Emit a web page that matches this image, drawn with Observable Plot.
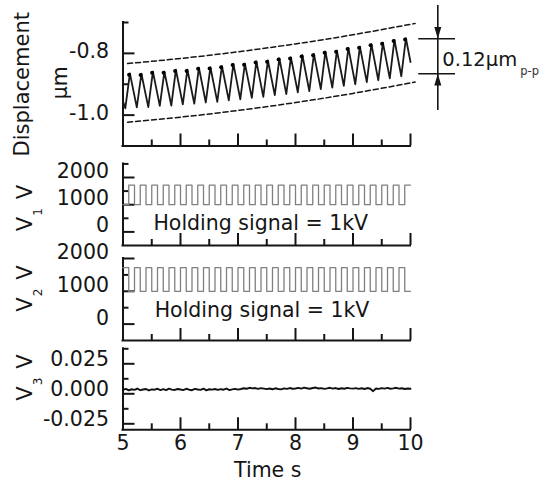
<!DOCTYPE html>
<html><head><meta charset="utf-8">
<script src="https://cdn.jsdelivr.net/npm/d3@7"></script>
<script src="https://cdn.jsdelivr.net/npm/@observablehq/plot@0.6"></script>
<style>
html,body{margin:0;padding:0;background:#fff;}
#chart{position:relative;width:541px;height:482px;overflow:hidden;background:#fff;}
</style></head>
<body><div id="chart"></div>
<script>
// ---------- data ----------
const xTickLabels = [5, 6, 7, 8, 9, 10];
const xMajorTicks = [6, 7, 8, 9, 10];
const xMinorTicks = [5.5, 6.5, 7.5, 8.5, 9.5];

// Displacement (um)
const dispLabels = [-1.0, -0.8];
const dispMajor = [-1.0, -0.8];
const dispMinor = [-0.9, -0.7];
const troughT = [5.04,5.24,5.44,5.64,5.84,6.04,6.24,6.44,6.64,6.84,7.04,7.24,7.44,7.64,7.84,8.04,8.24,8.44,8.64,8.84,9.04,9.24,9.44,9.64,9.84];
const troughV = [-0.978,-0.975,-0.974,-0.970,-0.969,-0.965,-0.963,-0.959,-0.957,-0.952,-0.949,-0.944,-0.941,-0.935,-0.932,-0.926,-0.922,-0.916,-0.911,-0.905,-0.900,-0.893,-0.887,-0.881,-0.874];
const peakT = [5.12,5.32,5.52,5.72,5.92,6.12,6.32,6.52,6.72,6.92,7.12,7.32,7.52,7.72,7.92,8.12,8.32,8.52,8.72,8.92,9.12,9.32,9.52,9.72,9.92];
const peakV = [-0.865,-0.866,-0.859,-0.859,-0.853,-0.853,-0.846,-0.845,-0.841,-0.834,-0.833,-0.826,-0.823,-0.816,-0.813,-0.806,-0.802,-0.794,-0.791,-0.782,-0.778,-0.770,-0.765,-0.756,-0.751];
const traceStart = {t: 5.0, v: -0.955};
const traceEnd = {t: 10.0, v: -0.828};
const envT = [5.08, 6, 7, 8, 9, 10.08];
const envUpper = [-0.833, -0.8166, -0.7949, -0.7693, -0.7396, -0.703];
const envLower = [-1.023, -1.0066, -0.9849, -0.9593, -0.9296, -0.893];
// p-p annotation
const annX = 10.475, annTop = -0.645, annBottom = -0.985;
const annLevels = [-0.7528, -0.8662];
const annX1 = 10.144, annX2 = 10.783;
const annText = "0.12\u03bcm", annSub = "p-p";

// V1, V2 (V)
const voltLabels = [0, 1000, 2000];
const voltMajor = [0, 1000, 2000];
const v1Minor = [500, 1500, 2500];
const v2Minor = [500, 1500];
const sqT = [5.0,5.1,5.2,5.3,5.4,5.5,5.6,5.7,5.8,5.9,6.0,6.1,6.2,6.3,6.4,6.5,6.6,6.7,6.8,6.9,7.0,7.1,7.2,7.3,7.4,7.5,7.6,7.7,7.8,7.9,8.0,8.1,8.2,8.3,8.4,8.5,8.6,8.7,8.8,8.9,9.0,9.1,9.2,9.3,9.4,9.5,9.6,9.7,9.8,9.9,10.0];
const v1 = [1000,1720,1000,1720,1000,1720,1000,1720,1000,1720,1000,1720,1000,1720,1000,1720,1000,1720,1000,1720,1000,1720,1000,1720,1000,1720,1000,1720,1000,1720,1000,1720,1000,1720,1000,1720,1000,1720,1000,1720,1000,1720,1000,1720,1000,1720,1000,1720,1000,1720,1720];
const v2 = [1720,1000,1720,1000,1720,1000,1720,1000,1720,1000,1720,1000,1720,1000,1720,1000,1720,1000,1720,1000,1720,1000,1720,1000,1720,1000,1720,1000,1720,1000,1720,1000,1720,1000,1720,1000,1720,1000,1720,1000,1720,1000,1720,1000,1720,1000,1720,1000,1720,1000,1000];
const holdingText = "Holding signal = 1kV";

// V3 (V), samples in mV
const v3Labels = [-0.025, 0, 0.025];
const v3Major = [-0.025, 0, 0.025];
const v3Minor = [-0.0125, 0.0125, 0.0375];
const v3T = [5,5.05,5.1,5.15,5.2,5.25,5.3,5.35,5.4,5.45,5.5,5.55,5.6,5.65,5.7,5.75,5.8,5.85,5.9,5.95,6,
6.05,6.1,6.15,6.2,6.25,6.3,6.35,6.4,6.45,6.5,6.55,6.6,6.65,6.7,6.75,6.8,6.85,6.9,6.95,7,
7.05,7.1,7.15,7.2,7.25,7.3,7.35,7.4,7.45,7.5,7.55,7.6,7.65,7.7,7.75,7.8,7.85,7.9,7.95,8,
8.05,8.1,8.15,8.2,8.25,8.3,8.35,8.4,8.45,8.5,8.55,8.6,8.65,8.7,8.75,8.8,8.85,8.9,8.95,9,
9.05,9.1,9.15,9.2,9.25,9.3,9.35,9.4,9.45,9.5,9.55,9.6,9.65,9.7,9.75,9.8,9.85,9.9,9.95,10];
const v3mV = [3.2,4.1,2.9,3.8,3.3,4.4,3.0,3.6,4.0,2.8,3.7,3.4,4.2,3.1,3.9,3.0,4.3,3.5,3.2,4.0,3.6,
3.1,4.2,3.4,3.0,4.1,3.6,3.3,4.3,2.9,3.8,3.5,4.0,3.2,3.9,3.4,4.4,3.1,3.7,4.1,3.5,
4.0,4.6,4.2,5.0,4.5,4.8,4.1,4.7,4.3,3.9,4.4,3.8,4.6,4.0,3.7,4.5,4.1,4.8,4.2,4.4,
4.9,4.3,5.1,4.6,4.2,4.8,5.2,4.4,4.7,4.1,4.5,5.0,4.3,4.8,4.0,4.6,4.2,4.9,4.5,4.3,
4.7,4.1,4.6,4.0,4.8,4.2,2.2,4.4,4.1,4.7,4.3,4.9,4.2,4.5,5.0,4.3,4.6,4.0,4.4,4.2];
const xTitle = "Time s";

// ---------- tables built from the arrays ----------
const trace = [{t: traceStart.t, v: traceStart.v}]
  .concat(troughT.map((t, i) => ({t, v: troughV[i]})))
  .concat(peakT.map((t, i) => ({t, v: peakV[i]})))
  .concat([{t: traceEnd.t, v: traceEnd.v}])
  .sort((a, b) => a.t - b.t);
const peaks = peakT.map((t, i) => ({t, v: peakV[i]}));
const upper = envT.map((t, i) => ({t, v: envUpper[i]}));
const lower = envT.map((t, i) => ({t, v: envLower[i]}));
const sq1 = sqT.map((t, i) => ({t, v: v1[i]}));
const sq2 = sqT.map((t, i) => ({t, v: v2[i]}));
const noise = v3T.map((t, i) => ({t, v: v3mV[i] / 1000}));

// ---------- layout ----------
const W = 541, H = 482, ML = 122.5, MR = 131;
const FW = W - ML - MR;
const INK = "#151515";
const FONT = "'DejaVu Sans', sans-serif";
const chart = document.getElementById("chart");

function addPanel(top, bottom, yDomain, marks) {
  const svg = Plot.plot({
    width: W, height: H,
    marginLeft: ML, marginRight: MR, marginTop: top, marginBottom: H - bottom,
    x: {domain: [5, 10], axis: null},
    y: {domain: yDomain, axis: null},
    style: {fontFamily: FONT, fontSize: "20.5px", color: INK, background: "transparent",
            overflow: "visible", position: "absolute", left: "0px", top: "0px"},
    marks
  });
  chart.appendChild(svg);
}

function frame(fh, yMin, yMajor, yMinor, yLabels, fmt, labelDy) {
  const s = {stroke: INK, strokeWidth: 2};
  return [
    Plot.tickX(xMinorTicks, {x: d => d, insetTop: fh - 6, ...s}),
    Plot.tickX(xMajorTicks, {x: d => d, insetTop: fh - 12, ...s}),
    Plot.tickY(yMinor, {y: d => d, insetRight: FW - 6, ...s}),
    Plot.tickY(yMajor, {y: d => d, insetRight: FW - 12, ...s}),
    Plot.ruleX([5], {...s, strokeLinecap: "square"}),
    Plot.ruleY([yMin], {...s, strokeLinecap: "square"}),
    Plot.text(yLabels, {y: d => d, text: fmt, frameAnchor: "left", textAnchor: "end",
      lineAnchor: "middle", dx: -14, dy: labelDy, fill: INK, fontSize: 20.5})
  ];
}

function vTitle(sub, center, frameMid) {
  const o = {text: d => d, frameAnchor: "left", textAnchor: "middle", lineAnchor: "bottom", rotate: -90, fill: INK};
  return [
    Plot.text(["V"], {...o, dx: -91, dy: center + 16 - frameMid, fontSize: 21}),
    Plot.text([sub], {...o, dx: -81, dy: center + 4 - frameMid, fontSize: 12}),
    Plot.text(["V"], {...o, dx: -91, dy: center - 16 - frameMid, fontSize: 21})
  ];
}

const arrowDown = {draw(ctx) { ctx.moveTo(0, 0); ctx.lineTo(-3.5, -11.7); ctx.lineTo(3.5, -11.7); ctx.closePath(); }};
const arrowUp = {draw(ctx) { ctx.moveTo(0, 0); ctx.lineTo(-3.5, 11.7); ctx.lineTo(3.5, 11.7); ctx.closePath(); }};

// Panel 1: displacement
addPanel(22, 145.5, [-1.1, -0.7], [
  ...frame(123.5, -1.1, dispMajor, dispMinor, dispLabels, d => d.toFixed(1), -1.5),
  Plot.line(upper, {x: "t", y: "v", curve: "natural", stroke: INK, strokeWidth: 1.5, strokeDasharray: "5,3"}),
  Plot.line(lower, {x: "t", y: "v", curve: "natural", stroke: INK, strokeWidth: 1.5, strokeDasharray: "5,3"}),
  Plot.line(trace, {x: "t", y: "v", stroke: "#1a1a1a", strokeWidth: 1.8, strokeLinejoin: "round"}),
  Plot.dot(peaks, {x: "t", y: "v", r: 2, fill: "#000", stroke: "none", dx: -0.8, dy: 1.2}),
  Plot.ruleX([annX], {y1: annTop, y2: annBottom, stroke: INK, strokeWidth: 1.6}),
  Plot.ruleY(annLevels, {x1: annX1, x2: annX2, stroke: INK, strokeWidth: 1.6}),
  Plot.dot([{x: annX, y: annLevels[0]}], {x: "x", y: "y", r: 4, symbol: arrowDown, fill: INK, stroke: "none"}),
  Plot.dot([{x: annX, y: annLevels[1]}], {x: "x", y: "y", r: 4, symbol: arrowUp, fill: INK, stroke: "none"}),
  Plot.text([{x: annX, y: (annLevels[0] + annLevels[1]) / 2}], {x: "x", y: "y", text: () => annText,
    textAnchor: "start", lineAnchor: "bottom", dx: 4.5, dy: 9.5, fontFamily: FONT, fontSize: 19.5, fill: INK}),
  Plot.text([{x: annX, y: (annLevels[0] + annLevels[1]) / 2}], {x: "x", y: "y", text: () => annSub,
    textAnchor: "start", lineAnchor: "bottom", dx: 82.5, dy: 18.5, fontFamily: FONT, fontSize: 11.5, fill: "#333"}),
  Plot.text(["Displacement"], {text: d => d, frameAnchor: "left", textAnchor: "middle", lineAnchor: "bottom",
    rotate: -90, dx: -94.5, dy: 0, fontSize: 21, fill: INK}),
  Plot.text(["\u03bcm"], {text: d => d, frameAnchor: "left", textAnchor: "middle", lineAnchor: "bottom",
    rotate: -90, dx: -56, dy: -1.5, fontSize: 20.5, fill: INK})
]);

// Panel 2: V1
addPanel(163.4, 245, [-500, 2500], [
  ...frame(81.6, -500, voltMajor, v1Minor, voltLabels, d => String(d), -6),
  Plot.line(sq1, {x: "t", y: "v", curve: "step-after", stroke: "#808080", strokeWidth: 1.3}),
  Plot.text([holdingText], {text: d => d, frameAnchor: "bottom", textAnchor: "middle", lineAnchor: "bottom",
    dx: -6, dy: -16, fontSize: 20.5, fill: INK}),
  ...vTitle("1", 207.5, 204.2)
]);

// Panel 3: V2
addPanel(258, 340, [-500, 2000], [
  ...frame(82, -500, voltMajor, v2Minor, voltLabels, d => String(d), -6),
  Plot.line(sq2, {x: "t", y: "v", curve: "step-after", stroke: "#808080", strokeWidth: 1.3}),
  Plot.text([holdingText], {text: d => d, frameAnchor: "bottom", textAnchor: "middle", lineAnchor: "bottom",
    dx: -4.75, dy: -23.3, fontSize: 20.5, fill: INK}),
  ...vTitle("2", 288, 299)
]);

// Panel 4: V3 + time axis
addPanel(348.3, 429.3, [-0.03, 0.0375], [
  ...frame(81, -0.03, v3Major, v3Minor, v3Labels, d => d.toFixed(3), -4),
  Plot.line(noise, {x: "t", y: "v", stroke: "#111", strokeWidth: 1.9}),
  Plot.text(xTickLabels, {x: d => d, text: d => String(d), frameAnchor: "bottom", textAnchor: "middle",
    lineAnchor: "top", dy: 6, fontSize: 20.5, fill: INK}),
  Plot.text([xTitle], {text: d => d, frameAnchor: "bottom", textAnchor: "middle", lineAnchor: "top",
    dx: 1, dy: 32.5, fontSize: 20.5, fill: INK}),
  ...vTitle("3", 377, 388.8)
]);
</script>
</body></html>
